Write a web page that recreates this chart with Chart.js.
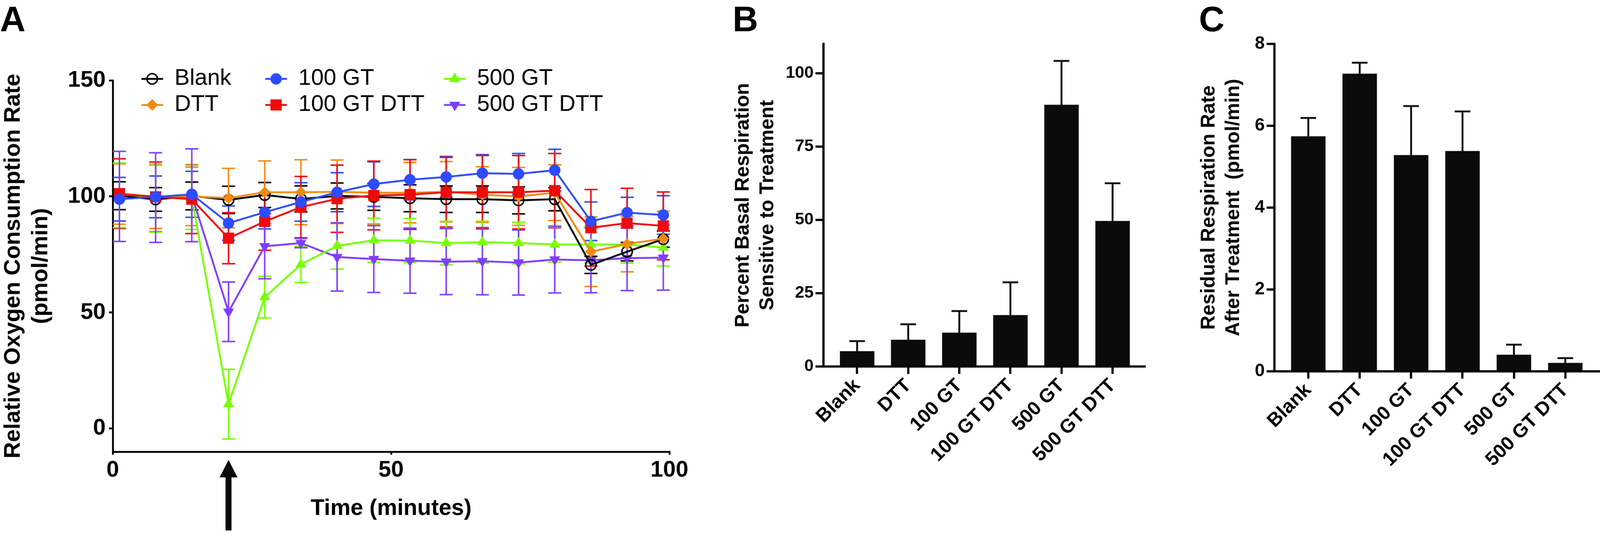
<!DOCTYPE html>
<html>
<head>
<meta charset="utf-8">
<script src="https://cdn.jsdelivr.net/npm/chart.js@4.4.1/dist/chart.umd.min.js"></script>
<style>
  html, body { margin: 0; padding: 0; background: #fff; overflow: hidden; }
  #lienzo { width: 4300px; height: 1426px; position: absolute; left: 0; top: 0; transform-origin: 0 0;
            font-family: "Liberation Sans", Arial, sans-serif; background: #fff; }
  canvas { position: absolute; top: 0; }
  .letra { position: absolute; top: 4px; font-weight: bold; font-size: 95px; line-height: 1; color: #000; }
</style>
</head>
<body>
<div id="lienzo">
  <div class="letra" style="left:0px">A</div>
  <div class="letra" style="left:1969px">B</div>
  <div class="letra" style="left:3222px">C</div>
  <canvas id="graficoA" width="1900" height="1426" style="left:0px"></canvas>
  <canvas id="graficoB" width="1250" height="1426" style="left:1900px"></canvas>
  <canvas id="graficoC" width="1150" height="1426" style="left:3150px"></canvas>
</div>
<script>
// Ajustar la hoja de 4300x1426 a la ventana real
function ajustarEscala() {
    const e = Math.min(window.innerWidth / 4300, window.innerHeight / 1426);
    document.getElementById('lienzo').style.transform = 'scale(' + e + ')';
}
ajustarEscala();
window.addEventListener('resize', ajustarEscala);

// Datos del panel A (tiempo en minutos, media y error de cada grupo)
const tiempo = [1.2, 7.7, 14.2, 20.8, 27.3, 33.8, 40.3, 46.9, 53.4, 59.9, 66.4, 72.9, 79.4, 85.9, 92.4, 98.9];

const blankMedia = [100.3, 98.7, 100.2, 98.5, 100.6, 98.9, 100.2, 99.8, 99.2, 98.8, 98.8, 98.3, 98.8, 70.5, 76.2, 81.6];
const blankError = [6, 5.1, 6, 5.9, 5.4, 5.6, 5.6, 5.8, 5.8, 5.7, 5.7, 5.8, 5, 3.7, 4, 3.5];

const dttMedia = [101, 100, 100, 99.3, 101.8, 101.8, 102, 101.6, 101.6, 102, 100.8, 100, 101.6, 76.2, 79.5, 81.8];
const dttError = [13, 13.8, 12.6, 12.8, 13.5, 14, 13.7, 13.5, 13, 13, 12, 12.5, 12, 15, 12, 11.8];

const gt100Media = [98.8, 99.8, 100.9, 88.5, 93.2, 97.6, 101.8, 105.3, 107.2, 108.4, 110, 109.7, 111.3, 89.3, 93, 92];
const gt100Error = [9.4, 9, 9.9, 7.4, 7.2, 8.3, 8.4, 9.6, 8.7, 8.8, 8, 8.8, 9, 8.3, 6.6, 8.3];

const gt100DttMedia = [101.2, 99.8, 98.8, 82, 89.2, 95.4, 99, 100.4, 100.8, 101.8, 101.8, 101.8, 102.5, 86.5, 88.5, 87.3];
const gt100DttError = [15, 15, 14.8, 11, 12.4, 13.2, 14.5, 14.8, 15, 15, 15.8, 15.8, 16, 16.5, 15, 14.6];

const gt500Media = [100.5, 99, 99.6, 10.5, 56.6, 70.7, 78.7, 81.1, 81, 79.9, 80.3, 79.9, 79.3, 79.3, 79.3, 78];
const gt500Error = [13.9, 14.4, 13.8, 15, 9, 7.8, 10, 9.5, 9.5, 9.4, 9, 9, 7.6, 8, 8, 8];

const gt500DttMedia = [100, 99.5, 100.5, 50.3, 78.5, 79.9, 73.9, 73, 72.3, 71.9, 72.1, 71.5, 72.8, 72.5, 73.4, 73.6];
const gt500DttError = [19.4, 19.3, 20, 12.8, 14, 2, 14.7, 14.4, 14, 14.2, 14.5, 14, 14.4, 14, 14, 14];

const ticksAx = [0, 50, 100];
const ticksAy = [0, 50, 100, 150];
const flechaMin = 20.8;   // momento del tratamiento

// Datos de los paneles B y C
const categorias = ['Blank', 'DTT', '100 GT', '100 GT DTT', '500 GT', '500 GT DTT'];
const basalMedia = [5.2, 9.1, 11.5, 17.5, 89.2, 49.6];
const basalError = [3.45, 5.3, 7.4, 11.2, 15, 12.9];
const residualMedia = [5.74, 7.27, 5.28, 5.38, 0.4, 0.2];
const residualError = [0.45, 0.27, 1.2, 0.97, 0.25, 0.12];
const ticksBy = [0, 25, 50, 75, 100];
const ticksCy = [0, 2, 4, 6, 8];

const FUENTE = '"Liberation Sans", Arial, sans-serif';
Chart.defaults.font.family = FUENTE;
Chart.defaults.color = '#000';

// Barras de error (simetricas en A, solo hacia arriba en B y C)
const barrasError = {
    id: 'barrasError',
    dibujar(chart, opts) {
        const ctx = chart.ctx;
        const xs = chart.scales.x, ys = chart.scales.y;
        chart.data.datasets.forEach(ds => {
            if (!ds.errores) return;
            ctx.save();
            ctx.strokeStyle = opts.color || ds.borderColor;
            ctx.lineWidth = opts.grosor;
            ctx.lineCap = 'butt';
            ds.data.forEach((p, j) => {
                const e = ds.errores[j];
                const px = xs.getPixelForValue(p.x);
                const arriba = ys.getPixelForValue(p.y + e);
                const abajo = ys.getPixelForValue(opts.soloArriba ? p.y : p.y - e);
                const w = opts.ancho / 2;
                ctx.beginPath();
                ctx.moveTo(px, arriba);
                ctx.lineTo(px, abajo);
                ctx.moveTo(px - w, arriba);
                ctx.lineTo(px + w, arriba);
                if (!opts.soloArriba) {
                    ctx.moveTo(px - w, abajo);
                    ctx.lineTo(px + w, abajo);
                }
                ctx.stroke();
            });
            ctx.restore();
        });
    },
    beforeDatasetsDraw(chart, args, opts) {
        if (!opts.encima) this.dibujar(chart, opts);
    },
    afterDatasetsDraw(chart, args, opts) {
        if (opts.encima) this.dibujar(chart, opts);
    }
};

// Leyenda del panel A en tres columnas
const leyendaA = {
    id: 'leyendaA',
    afterDraw(chart) {
        const ctx = chart.ctx;
        const columnas = [409, 742, 1222];
        const filas = [212, 282];
        const orden = [['Blank', 'DTT'], ['100 GT', '100 GT DTT'], ['500 GT', '500 GT DTT']];
        ctx.save();
        orden.forEach((col, c) => {
            col.forEach((nombre, f) => {
                const ds = chart.data.datasets.find(d => d.label === nombre);
                const x = columnas[c], y = filas[f];
                ctx.strokeStyle = ds.borderColor;
                ctx.lineWidth = 5;
                ctx.lineCap = 'round';
                ctx.beginPath();
                ctx.moveTo(x - 27, y);
                ctx.lineTo(x + 27, y);
                ctx.stroke();
                ctx.fillStyle = ds.pointBackgroundColor;
                ctx.strokeStyle = ds.borderColor;
                ctx.lineWidth = ds.pointBorderWidth;
                Chart.helpers.drawPoint(ctx, {
                    pointStyle: ds.pointStyle,
                    rotation: ds.pointRotation || 0,
                    radius: ds.pointRadius,
                    borderWidth: ds.pointBorderWidth
                }, x, y);
                ctx.fillStyle = '#000';
                ctx.font = '61px ' + FUENTE;
                ctx.textBaseline = 'middle';
                ctx.textAlign = 'left';
                ctx.fillText(nombre, x + 60, y - 1);
            });
        });
        ctx.restore();
    }
};

// Flecha que marca la adicion del tratamiento
const flechaA = {
    id: 'flechaA',
    afterDraw(chart) {
        const ctx = chart.ctx;
        const x = chart.scales.x.getPixelForValue(flechaMin);
        const punta = chart.chartArea.bottom + 22;
        ctx.save();
        ctx.fillStyle = '#0a0c0a';
        ctx.fillRect(x - 8, punta + 40, 16, chart.height - punta - 40);
        ctx.beginPath();
        ctx.moveTo(x, punta);
        ctx.lineTo(x + 24, punta + 47);
        ctx.lineTo(x - 24, punta + 47);
        ctx.closePath();
        ctx.fill();
        ctx.restore();
    }
};

function serie(label, media, error, color, estilo, radio, orden, extra) {
    return Object.assign({
        label: label,
        data: tiempo.map((t, i) => ({ x: t, y: media[i] })),
        errores: error,
        showLine: true,
        borderColor: color,
        backgroundColor: color,
        borderWidth: 5,
        pointStyle: estilo,
        pointRadius: radio,
        pointHoverRadius: radio,
        pointBackgroundColor: color,
        pointBorderColor: color,
        pointBorderWidth: 1,
        order: orden,
        clip: false
    }, extra || {});
}

function crearPanelA() {
    new Chart(document.getElementById('graficoA'), {
        type: 'scatter',
        data: {
            datasets: [
                serie('Blank', blankMedia, blankError, '#000000', 'circle', 14, 4,
                      { pointBackgroundColor: 'rgba(0,0,0,0)', pointBorderWidth: 4 }),
                serie('DTT', dttMedia, dttError, '#F28A12', 'rectRot', 15, 3),
                serie('100 GT', gt100Media, gt100Error, '#2D4BFF', 'circle', 15, 1),
                serie('100 GT DTT', gt100DttMedia, gt100DttError, '#EE0A0A', 'rect', 20.5, 2),
                serie('500 GT', gt500Media, gt500Error, '#77FF00', 'triangle', 16, 5),
                serie('500 GT DTT', gt500DttMedia, gt500DttError, '#7F3DFF', 'triangle', 16, 6,
                      { pointRotation: 180 })
            ]
        },
        options: {
            responsive: false,
            animation: false,
            devicePixelRatio: 1,
            layout: { padding: { left: 0, top: 216, right: 101, bottom: 0 } },
            plugins: {
                legend: { display: false },
                tooltip: { enabled: false },
                barrasError: { grosor: 4, ancho: 35, soloArriba: false, encima: false }
            },
            scales: {
                x: {
                    type: 'linear', min: 0, max: 100,
                    afterBuildTicks: s => { s.ticks = ticksAx.map(v => ({ value: v })); },
                    afterFit: s => { s.height = 212; },
                    border: { color: '#000', width: 5 },
                    grid: { drawOnChartArea: false, color: '#000', lineWidth: 5, tickLength: 8 },
                    ticks: { color: '#000', font: { size: 61, weight: 'bold' }, padding: 6, maxRotation: 0 },
                    title: { display: true, text: 'Time (minutes)', color: '#000',
                             font: { size: 61, weight: 'bold', lineHeight: 1.2 }, padding: { top: 0, bottom: 22 } }
                },
                y: {
                    min: -10, max: 150,
                    afterBuildTicks: s => { s.ticks = ticksAy.map(v => ({ value: v })); },
                    afterFit: s => { s.width = 303; },
                    border: { color: '#000', width: 5 },
                    grid: { drawOnChartArea: false, color: '#000', lineWidth: 5, tickLength: 10 },
                    ticks: { color: '#000', font: { size: 61, weight: 'bold' }, padding: 9 },
                    title: { display: true, text: ['Relative Oxygen Consumption Rate', '(pmol/min)'], color: '#000',
                             font: { size: 61, weight: 'bold', lineHeight: 1.2 }, padding: { top: 0, bottom: 0 } }
                }
            }
        },
        plugins: [barrasError, leyendaA, flechaA]
    });
}

function crearPanelBarras(id, media, error, ticksY, maxY, rango, anchoEje, derecha, fondo, tituloY, tituloPad, fuenteTicks) {
    new Chart(document.getElementById(id), {
        type: 'bar',
        data: {
            datasets: [{
                data: categorias.map((c, i) => ({ x: i, y: media[i] })),
                errores: error,
                backgroundColor: '#0a0c0a',
                borderColor: '#000',
                borderWidth: 0,
                barThickness: 92
            }]
        },
        options: {
            responsive: false,
            animation: false,
            devicePixelRatio: 1,
            layout: { padding: { left: 0, top: 118, right: derecha, bottom: 0 } },
            plugins: {
                legend: { display: false },
                tooltip: { enabled: false },
                barrasError: { grosor: 5, ancho: 42, soloArriba: true, encima: true, color: '#0a0c0a' }
            },
            scales: {
                x: {
                    type: 'linear', min: rango[0], max: rango[1], offset: false,
                    afterBuildTicks: s => { s.ticks = categorias.map((c, i) => ({ value: i })); },
                    afterFit: s => { s.height = 1426 - fondo; },
                    border: { color: '#000', width: 6 },
                    grid: { offset: false, drawOnChartArea: false, color: '#000', lineWidth: 6, tickLength: 20 },
                    ticks: { color: '#000', font: { size: 52, weight: 'bold' }, padding: 1,
                             minRotation: 45, maxRotation: 45, autoSkip: false,
                             callback: v => categorias[v] }
                },
                y: {
                    min: 0, max: maxY,
                    afterBuildTicks: s => { s.ticks = ticksY.map(v => ({ value: v })); },
                    afterFit: s => { s.width = anchoEje; },
                    border: { color: '#000', width: 6 },
                    grid: { drawOnChartArea: false, color: '#000', lineWidth: 6, tickLength: 21 },
                    ticks: { color: '#000', font: { size: fuenteTicks, weight: 'bold' }, padding: 5 },
                    title: { display: true, text: tituloY, color: '#000',
                             font: { size: 53, weight: 'bold', lineHeight: 1.245 }, padding: { top: tituloPad, bottom: 0 } }
                }
            }
        },
        plugins: [barrasError]
    });
}

crearPanelA();
crearPanelBarras('graficoB', basalMedia, basalError, ticksBy, 110, [-0.662, 5.626], 312.6, 74, 985,
                 ['Percent Basal Respiration', 'Sensitive to Treatment'], 64.7, 45);
crearPanelBarras('graficoC', residualMedia, residualError, ticksCy, 8, [-0.659, 5.675], 275, 0, 997.6,
                 ['Residual Respiration Rate', 'After Treatment  (pmol/min)'], 66, 48);
</script>
</body>
</html>
